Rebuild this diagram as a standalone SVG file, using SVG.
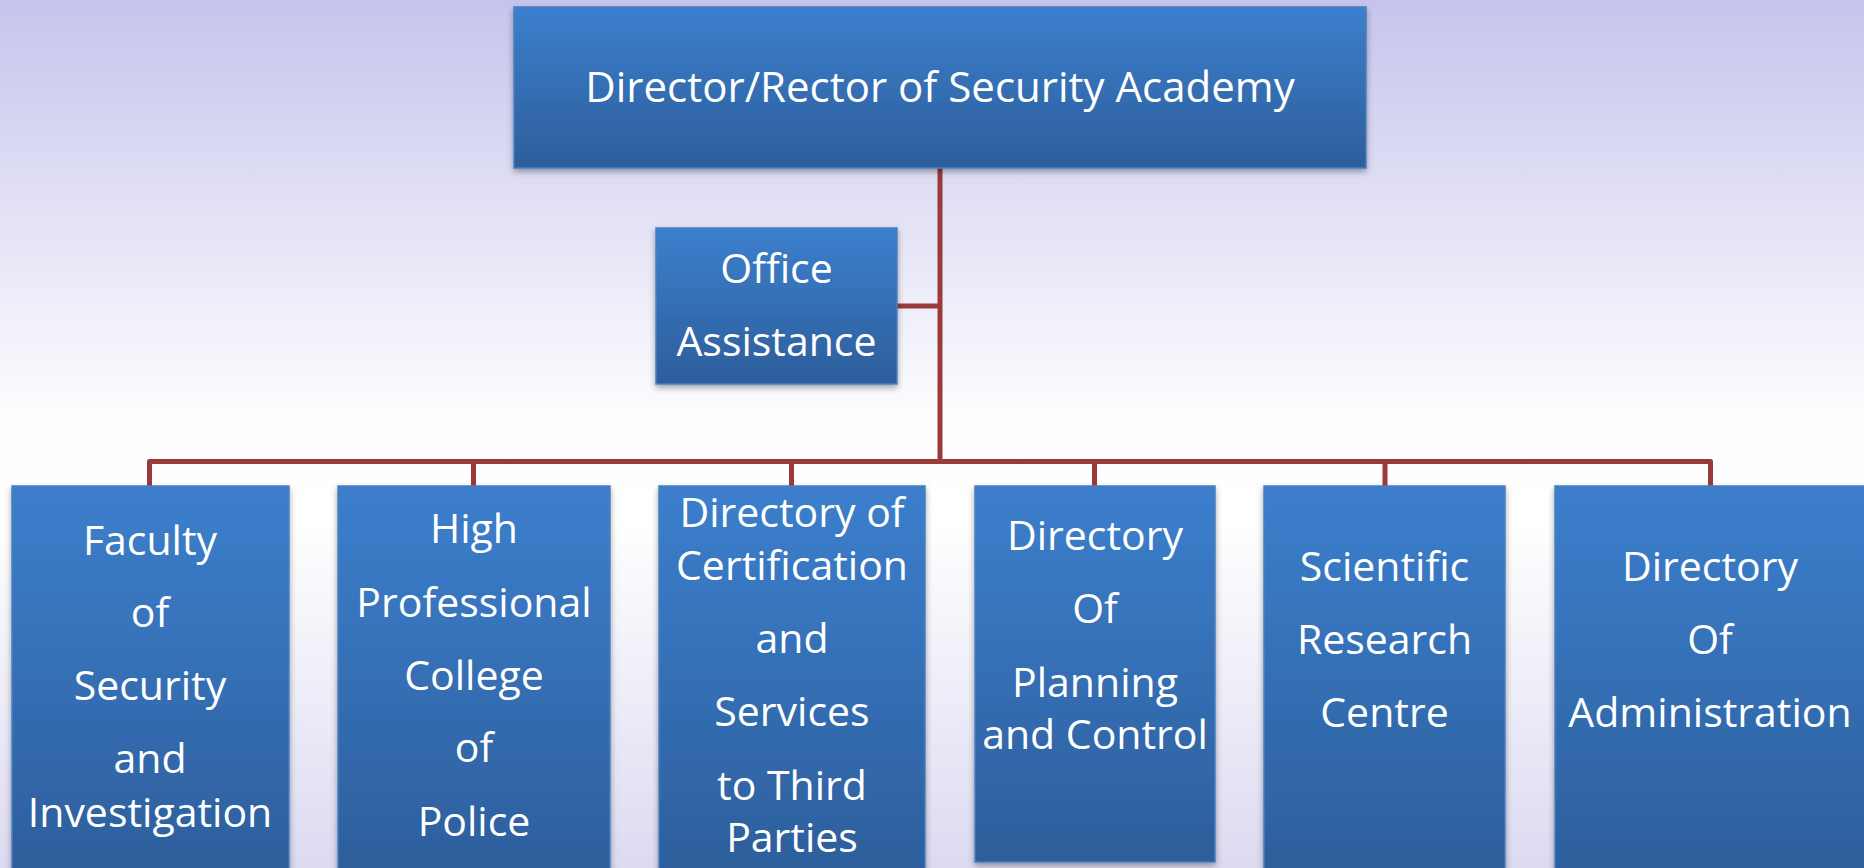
<svg xmlns="http://www.w3.org/2000/svg" width="1864" height="868" viewBox="0 0 1864 868">
  <defs>
    <linearGradient id="bg" x1="0" y1="0" x2="0" y2="1">
      <stop offset="0" stop-color="#c6c4ec"/>
      <stop offset="0.48" stop-color="#fdfdff"/>
      <stop offset="0.6" stop-color="#ffffff"/>
      <stop offset="1" stop-color="#dcdaf1"/>
    </linearGradient>
    <linearGradient id="box" x1="0" y1="0" x2="0" y2="1">
      <stop offset="0" stop-color="#3c7fcd"/>
      <stop offset="1" stop-color="#2d5e9b"/>
    </linearGradient>
    <filter id="sh" x="-10%" y="-10%" width="120%" height="125%">
      <feDropShadow dx="0" dy="3" stdDeviation="3" flood-color="#000" flood-opacity="0.35"/>
    </filter>
  </defs>
  <style>
    .node rect { fill: url(#box); stroke: #4a7fc0; stroke-width: 1.5; filter: url(#sh); }
    .node text { font-family: "Open Sans", "Noto Sans", "Liberation Sans", sans-serif; font-size: 41px; fill: #ffffff; text-anchor: middle; }
    .conn { fill: none; stroke: #9b3a3a; stroke-width: 5; stroke-linejoin: round; }
  </style>
  <rect x="0" y="0" width="1864" height="868" fill="url(#bg)"/>

  <g id="connectors">
    <path class="conn" d="M940,168 V461.5"/>
    <path class="conn" d="M897,306 H940"/>
    <path class="conn" d="M149.5,488 V461.5 H1710.5 V488"/>
    <path class="conn" d="M473.5,461.5 V488"/>
    <path class="conn" d="M791.5,461.5 V488"/>
    <path class="conn" d="M1094.5,461.5 V488"/>
    <path class="conn" d="M1385,461.5 V488"/>
  </g>

  <g id="director" class="node">
    <rect x="514" y="7" width="852" height="161"/>
    <text x="940" y="102" style="font-size:42px">Director/Rector of Security Academy</text>
  </g>

  <g id="office" class="node">
    <rect x="656" y="228" width="241" height="156"/>
    <text x="776.5" y="283">Office</text>
    <text x="776.5" y="356">Assistance</text>
  </g>

  <g id="faculty" class="node">
    <rect x="12" y="486" width="277" height="392"/>
    <text x="150" y="555">Faculty</text>
    <text x="150" y="627">of</text>
    <text x="150" y="700">Security</text>
    <text x="150" y="773">and</text>
    <text x="150" y="827">Investigation</text>
  </g>

  <g id="college" class="node">
    <rect x="338" y="486" width="272" height="392"/>
    <text x="474" y="543">High</text>
    <text x="474" y="617">Professional</text>
    <text x="474" y="690">College</text>
    <text x="474" y="762">of</text>
    <text x="474" y="836">Police</text>
  </g>

  <g id="certification" class="node">
    <rect x="659" y="486" width="266" height="392"/>
    <text x="792" y="527">Directory of</text>
    <text x="792" y="580">Certification</text>
    <text x="792" y="653">and</text>
    <text x="792" y="726">Services</text>
    <text x="792" y="800">to Third</text>
    <text x="792" y="852">Parties</text>
  </g>

  <g id="planning" class="node">
    <rect x="975" y="486" width="240" height="376"/>
    <text x="1095" y="550">Directory</text>
    <text x="1095" y="623">Of</text>
    <text x="1095" y="697">Planning</text>
    <text x="1095" y="749">and Control</text>
  </g>

  <g id="research" class="node">
    <rect x="1264" y="486" width="241" height="392"/>
    <text x="1384.5" y="581">Scientific</text>
    <text x="1384.5" y="654">Research</text>
    <text x="1384.5" y="727">Centre</text>
  </g>

  <g id="administration" class="node">
    <rect x="1555" y="486" width="320" height="392"/>
    <text x="1710" y="581">Directory</text>
    <text x="1710" y="654">Of</text>
    <text x="1710" y="727">Administration</text>
  </g>
</svg>
